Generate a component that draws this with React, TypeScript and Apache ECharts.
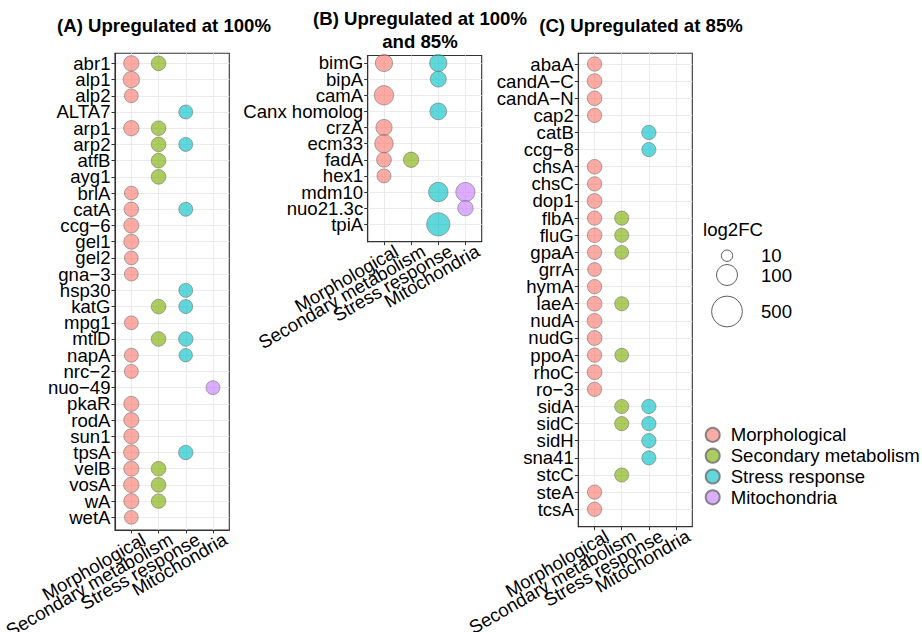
import React, { useEffect, useRef } from 'react';
import * as echarts from 'echarts';

// Functional categories (x axis of every panel)
const categories = ['Morphological', 'Secondary metabolism', 'Stress response', 'Mitochondria'];
const categoryColors = [
  'rgba(248,118,109,0.78)',
  'rgba(124,174,0,0.78)',
  'rgba(0,191,196,0.78)',
  'rgba(199,124,255,0.78)',
];

// (A) Upregulated at 100%
const genesA = [
  'abr1', 'alp1', 'alp2', 'ALTA7', 'arp1', 'arp2', 'atfB', 'ayg1', 'brlA', 'catA',
  'ccg\u22126', 'gel1', 'gel2', 'gna\u22123', 'hsp30', 'katG', 'mpg1', 'mtlD', 'napA', 'nrc\u22122',
  'nuo\u221249', 'pkaR', 'rodA', 'sun1', 'tpsA', 'velB', 'vosA', 'wA', 'wetA',
];
const morphA = [30, 38, 20, null, 30, null, null, null, 20, 24, 28, 28, 20, 20, null, null, 20, null, 21, 21, null, 28, 28, 28, 30, 28, 30, 28, 20];
const secA = [25, null, null, null, 25, 25, 25, 25, null, null, null, null, null, null, null, 25, null, 25, null, null, null, null, null, null, null, 25, 25, 24, null];
const stressA = [null, null, null, 21, null, 21, null, null, null, 21, null, null, null, null, 21, 21, null, 24, 18, null, null, null, null, null, 24, null, null, null, null];
const mitoA = [null, null, null, null, null, null, null, null, null, null, null, null, null, null, null, null, null, null, null, null, 21, null, null, null, null, null, null, null, null];

// (B) Upregulated at 100% and 85%
const genesB = ['bimG', 'bipA', 'camA', 'Canx homolog', 'crzA', 'ecm33', 'fadA', 'hex1', 'mdm10', 'nuo21.3c', 'tpiA'];
const morphB = [47, null, 73, null, 37, 60, 26, 21, null, null, null];
const secB = [null, null, null, null, null, null, 30, null, null, null, null];
const stressB = [47, 35, null, 42, null, null, null, null, 75, null, 155];
const mitoB = [null, null, null, null, null, null, null, null, 72, 30, null];

// (C) Upregulated at 85%
const genesC = [
  'abaA', 'candA\u2212C', 'candA\u2212N', 'cap2', 'catB', 'ccg\u22128', 'chsA', 'chsC', 'dop1', 'flbA',
  'fluG', 'gpaA', 'grrA', 'hymA', 'laeA', 'nudA', 'nudG', 'ppoA', 'rhoC', 'ro\u22123',
  'sidA', 'sidC', 'sidH', 'sna41', 'stcC', 'steA', 'tcsA',
];
const morphC = [23, 26, 25, 23, null, null, 25, 23, 26, 23, 25, 23, 20, 23, 26, 26, 26, 23, 26, 23, null, null, null, null, null, 23, 23];
const secC = [null, null, null, null, null, null, null, null, null, 22, 22, 20, null, null, 22, null, null, 20, null, null, 22, 22, null, null, 22, null, null];
const stressC = [null, null, null, null, 23, 22, null, null, null, null, null, null, null, null, null, null, null, null, null, null, 23, 23, 23, 22, null, null, null];
const mitoC = genesC.map(() => null as number | null);

// Size legend breaks (log2FC)
const sizeBreaks = [10, 100, 500];

const FONT = 'Liberation Sans, Arial, sans-serif';
const FS = 18.6;

// Diameter (px) of a dot for a given log2FC value
function dotSize(v: number): number {
  return -5 + 10.3 * Math.pow(v, 0.2);
}

type Panel = {
  title: string;
  titleX: number;
  titleY: number;
  genes: string[];
  values: (number | null)[][];
  grid: { left: number; top: number; width: number; height: number };
  padTop: number;
  padBottom: number;
};

const panels: Panel[] = [
  {
    title: '(A) Upregulated at 100%', titleX: 164, titleY: 25,
    genes: genesA, values: [morphA, secA, stressA, mitoA],
    grid: { left: 115, top: 53.3, width: 114.3, height: 476.7 }, padTop: 0.62, padBottom: 0.78,
  },
  {
    title: '(B) Upregulated at 100%\nand 85%', titleX: 420, titleY: 29.5,
    genes: genesB, values: [morphB, secB, stressB, mitoB],
    grid: { left: 367.7, top: 55.5, width: 114, height: 186.2 }, padTop: 0.465, padBottom: 1.08,
  },
  {
    title: '(C) Upregulated at 85%', titleX: 641, titleY: 25,
    genes: genesC, values: [morphC, secC, stressC, mitoC],
    grid: { left: 578.3, top: 53.3, width: 114, height: 473.4 }, padTop: 0.625, padBottom: 1.02,
  },
];

const AXIS_COLOR = '#333';
const GRID_COLOR = '#EBEBEB';

function buildOption(): echarts.EChartsOption {
  const grids: any[] = [];
  const xAxes: any[] = [];
  const yAxes: any[] = [];
  const series: any[] = [];
  const graphics: any[] = [];

  const catIdx = categories.map((_, i) => i);
  // Labels/ticks are split over two overlaid axes (even / odd positions) so that
  // tightly packed neighbouring labels are never dropped by the overlap check.
  const parity = (arr: number[], odd: number) => arr.filter((i) => i % 2 === odd);

  panels.forEach((p, pi) => {
    const n = p.genes.length;
    const rowIdx = p.genes.map((_, i) => i);
    grids.push({
      ...p.grid,
      show: true,
      borderColor: AXIS_COLOR,
      borderWidth: 1.1,
      backgroundColor: 'transparent',
      containLabel: false,
      outerBoundsMode: 'none',
    });

    [0, 1].forEach((odd) => {
      const xs = parity(catIdx, odd);
      const ys = parity(rowIdx, odd);
      xAxes.push({
        gridIndex: pi,
        type: 'value',
        position: 'bottom',
        offset: 0,
        min: -0.6,
        max: categories.length - 1 + 0.6,
        axisLine: { show: odd === 0, onZero: false, lineStyle: { color: AXIS_COLOR, width: 1.1 } },
        axisTick: { show: true, customValues: xs, length: 3.5, lineStyle: { color: AXIS_COLOR, width: 1 } },
        axisLabel: {
          customValues: xs,
          formatter: (v: number) => categories[v] ?? '',
          showMinLabel: true,
          showMaxLabel: true,
          hideOverlap: false,
          rotate: 30,
          margin: 4,
          color: '#000',
          fontSize: FS,
          fontFamily: FONT,
          align: 'right',
          verticalAlign: 'top',
          padding: [0, -9, 0, 0],
        },
        splitLine: { show: true, lineStyle: { color: GRID_COLOR, width: 1 } },
      });
      yAxes.push({
        gridIndex: pi,
        type: 'value',
        position: 'left',
        offset: 0,
        inverse: true,
        min: -p.padTop,
        max: n - 1 + p.padBottom,
        axisLine: { show: odd === 0, onZero: false, lineStyle: { color: AXIS_COLOR, width: 1.1 } },
        axisTick: { show: true, customValues: ys, length: 3.5, lineStyle: { color: AXIS_COLOR, width: 1 } },
        axisLabel: {
          customValues: ys,
          formatter: (v: number) => p.genes[v] ?? '',
          showMinLabel: true,
          showMaxLabel: true,
          hideOverlap: false,
          margin: 4.5,
          color: '#000',
          fontSize: FS,
          fontFamily: FONT,
        },
        splitLine: { show: true, lineStyle: { color: GRID_COLOR, width: 1 } },
      });
    });

    categories.forEach((cat, ci) => {
      const vals = p.values[ci];
      const data: number[][] = [];
      vals.forEach((v, gi) => {
        if (v != null) data.push([ci, gi, v]);
      });
      series.push({
        type: 'scatter',
        name: cat,
        xAxisIndex: pi * 2,
        yAxisIndex: pi * 2,
        data,
        symbol: 'circle',
        symbolSize: (d: number[]) => dotSize(d[2]),
        itemStyle: { color: categoryColors[ci], borderColor: '#6b6b6b', borderWidth: 0.7 },
        emphasis: { disabled: true },
        z: 3,
      });
    });

    graphics.push({
      type: 'text',
      x: p.titleX,
      y: p.titleY,
      style: {
        text: p.title,
        fill: '#000',
        font: `bold ${FS}px ${FONT}`,
        textAlign: 'center',
        textVerticalAlign: 'middle',
        lineHeight: 23,
      },
    });
  });

  // log2FC size legend
  const sizeLegendY = [255.7, 275, 311.5];
  graphics.push({
    type: 'text',
    x: 703,
    y: 229,
    style: { text: 'log2FC', fill: '#000', font: `${FS}px ${FONT}`, textAlign: 'left', textVerticalAlign: 'middle' },
  });
  sizeBreaks.forEach((b, i) => {
    graphics.push({
      type: 'circle',
      shape: { cx: 727, cy: sizeLegendY[i], r: dotSize(b) / 2 },
      style: { fill: '#fff', stroke: '#333', lineWidth: 0.8 },
    });
    graphics.push({
      type: 'text',
      x: 761,
      y: sizeLegendY[i],
      style: { text: String(b), fill: '#000', font: `${FS}px ${FONT}`, textAlign: 'left', textVerticalAlign: 'middle' },
    });
  });

  return {
    animation: false,
    backgroundColor: '#fff',
    grid: grids,
    xAxis: xAxes,
    yAxis: yAxes,
    series,
    graphic: graphics,
    legend: {
      show: true,
      data: categories,
      orient: 'vertical',
      left: 699.7,
      top: 420.4,
      icon: 'circle',
      itemWidth: 26,
      itemHeight: 14,
      itemGap: 1.8,
      selectedMode: false,
      textStyle: { color: '#000', fontSize: FS, fontFamily: FONT, lineHeight: 16 },
    },
  } as any;
}

export default function App() {
  const ref = useRef<HTMLDivElement>(null);
  useEffect(() => {
    if (!ref.current) return;
    const chart = echarts.init(ref.current, undefined, { renderer: 'svg' });
    chart.setOption(buildOption());
    return () => chart.dispose();
  }, []);
  return (
    <div
      ref={ref}
      style={{ position: 'fixed', left: 0, top: 0, width: 922, height: 632, background: '#fff' }}
    />
  );
}
